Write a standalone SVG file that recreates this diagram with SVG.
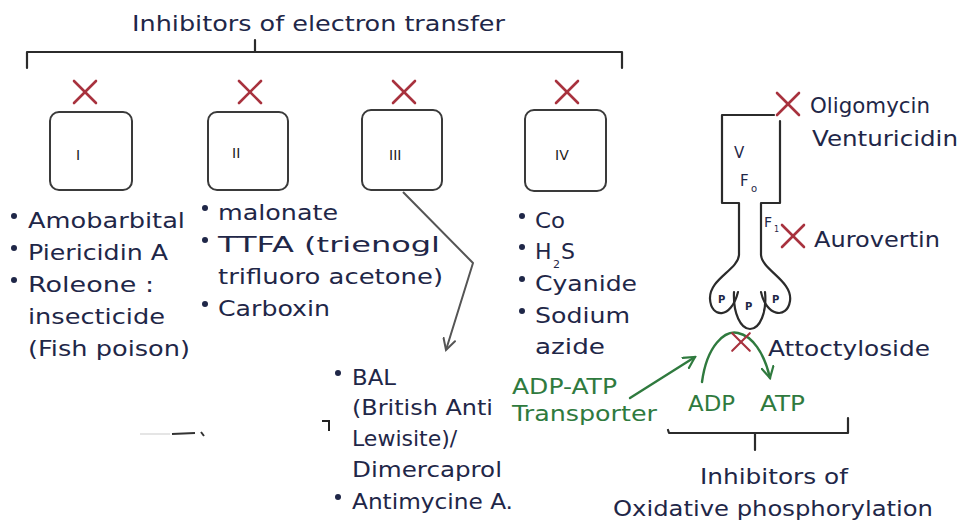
<svg xmlns="http://www.w3.org/2000/svg" width="965" height="528" viewBox="0 0 965 528">
  <style>
    text { font-family: "DejaVu Sans", "Liberation Sans", sans-serif; fill: #1f2748; }
    .t { font-size: 22px; }
    .g { fill: #2f7a3e; }
    .lbl { font-size: 14px; fill: #222; }
    .line { fill: none; stroke: #2b2b2b; stroke-width: 2.2; stroke-linecap: round; stroke-linejoin: round; }
    .box { fill: #fff; stroke: #3a3a3a; stroke-width: 2; }
    .x { stroke: #a8323e; stroke-width: 2.6; stroke-linecap: round; }
    .gr { fill: none; stroke: #2f7a3e; stroke-width: 2.4; stroke-linecap: round; }
    .dot { fill: #1f2748; }
  </style>
  <defs>
    <marker id="openGray" viewBox="0 0 14 14" refX="12" refY="7" markerWidth="14" markerHeight="14" markerUnits="userSpaceOnUse" orient="auto">
      <path d="M1,1 L12,7 L1,13" fill="none" stroke="#555" stroke-width="2" stroke-linecap="round"/>
    </marker>
    <marker id="openGreen" viewBox="0 0 14 14" refX="12" refY="7" markerWidth="14" markerHeight="14" markerUnits="userSpaceOnUse" orient="auto">
      <path d="M1,1 L12,7 L1,13" fill="none" stroke="#2f7a3e" stroke-width="2.2" stroke-linecap="round"/>
    </marker>
    <g id="cross"><line class="x" x1="-11" y1="-11" x2="11" y2="11"/><line class="x" x1="11" y1="-11" x2="-11" y2="11"/></g>
  </defs>

  <!-- electron transfer heading and bracket -->
  <g id="heading">
    <text class="t" x="132" y="31" textLength="373" lengthAdjust="spacingAndGlyphs">Inhibitors of electron transfer</text>
    <path class="line" d="M27,68 L27,52 L622,52 L622,68 M255,40 L255,52"/>
  </g>

  <!-- complexes I-IV -->
  <g id="complex-I">
    <use href="#cross" x="85" y="92"/>
    <rect class="box" x="50" y="112" width="82" height="78" rx="9"/>
    <text class="lbl" x="76" y="160">I</text>
  </g>
  <g id="complex-II">
    <use href="#cross" x="250" y="92"/>
    <rect class="box" x="208" y="112" width="80" height="78" rx="9"/>
    <text class="lbl" x="232" y="158">II</text>
  </g>
  <g id="complex-III">
    <use href="#cross" x="404" y="92"/>
    <rect class="box" x="362" y="110" width="80" height="80" rx="9"/>
    <text class="lbl" x="389" y="160">III</text>
  </g>
  <g id="complex-IV">
    <use href="#cross" x="567" y="92"/>
    <rect class="box" x="525" y="110" width="81" height="81" rx="9"/>
    <text class="lbl" x="555" y="160">IV</text>
  </g>

  <!-- inhibitor lists -->
  <g id="list-I">
    <circle class="dot" cx="14" cy="216" r="3"/>
    <text class="t" x="28" y="228" textLength="157" lengthAdjust="spacingAndGlyphs">Amobarbital</text>
    <circle class="dot" cx="14" cy="248" r="3"/>
    <text class="t" x="28" y="260" textLength="140" lengthAdjust="spacingAndGlyphs">Piericidin A</text>
    <circle class="dot" cx="14" cy="280" r="3"/>
    <text class="t" x="28" y="292" textLength="126" lengthAdjust="spacingAndGlyphs">Roleone :</text>
    <text class="t" x="28" y="324" textLength="137" lengthAdjust="spacingAndGlyphs">insecticide</text>
    <text class="t" x="28" y="356" textLength="162" lengthAdjust="spacingAndGlyphs">(Fish poison)</text>
  </g>
  <g id="list-II">
    <circle class="dot" cx="205" cy="208" r="3"/>
    <text class="t" x="218" y="220" textLength="120" lengthAdjust="spacingAndGlyphs">malonate</text>
    <circle class="dot" cx="205" cy="240" r="3"/>
    <text class="t" x="218" y="252" textLength="222" lengthAdjust="spacingAndGlyphs">TTFA (trienogl</text>
    <text class="t" x="218" y="284" textLength="225" lengthAdjust="spacingAndGlyphs">trifluoro acetone)</text>
    <circle class="dot" cx="205" cy="304" r="3"/>
    <text class="t" x="218" y="316" textLength="112" lengthAdjust="spacingAndGlyphs">Carboxin</text>
  </g>
  <g id="list-IV">
    <circle class="dot" cx="522" cy="216" r="3"/>
    <text class="t" x="535" y="228" textLength="30" lengthAdjust="spacingAndGlyphs">Co</text>
    <circle class="dot" cx="522" cy="247" r="3"/>
    <text class="t" x="535" y="259">H</text>
    <text x="553" y="268" style="font-size:11px">2</text>
    <text class="t" x="561" y="259">S</text>
    <circle class="dot" cx="522" cy="279" r="3"/>
    <text class="t" x="535" y="291" textLength="102" lengthAdjust="spacingAndGlyphs">Cyanide</text>
    <circle class="dot" cx="522" cy="311" r="3"/>
    <text class="t" x="535" y="323" textLength="95" lengthAdjust="spacingAndGlyphs">Sodium</text>
    <text class="t" x="535" y="354" textLength="70" lengthAdjust="spacingAndGlyphs">azide</text>
  </g>
  <g id="list-III">
    <circle class="dot" cx="338" cy="373" r="3"/>
    <text class="t" x="352" y="385" textLength="44" lengthAdjust="spacingAndGlyphs">BAL</text>
    <text class="t" x="352" y="415" textLength="141" lengthAdjust="spacingAndGlyphs">(British Anti</text>
    <text class="t" x="352" y="446">Lewisite)/</text>
    <text class="t" x="352" y="477" textLength="150" lengthAdjust="spacingAndGlyphs">Dimercaprol</text>
    <circle class="dot" cx="338" cy="497" r="3"/>
    <text class="t" x="352" y="509" textLength="161" lengthAdjust="spacingAndGlyphs">Antimycine A.</text>
  </g>

  <!-- complex V: ATP synthase -->
  <g id="complex-V">
    <path class="line" d="M774,115 L722,115 L722,203 L739,203 L739,255 M761,255 L761,203 L780,203 L780,121"/>
    <path class="line" d="M739,255 C738,270 709,279 710,299 C711,318 731,320 738,292"/>
    <path class="line" d="M734,292 C733,314 741,329 750,329 C760,329 767,312 765,292"/>
    <path class="line" d="M761,255 C762,270 793,281 790,301 C787,320 766,316 761,292"/>
    <text x="734" y="158" style="font-size:15px">V</text>
    <text x="740" y="186" style="font-size:15px">F</text>
    <text x="751" y="192" style="font-size:10px">o</text>
    <text x="764" y="227" style="font-size:14px">F</text>
    <text x="774" y="232" style="font-size:8px">1</text>
    <text x="718" y="303" style="font-size:10px;font-weight:bold">P</text>
    <text x="745" y="310" style="font-size:10px;font-weight:bold">P</text>
    <text x="772" y="303" style="font-size:10px;font-weight:bold">P</text>
  </g>
  <g id="oligomycin">
    <use href="#cross" x="788" y="104"/>
    <text class="t" x="810" y="113" textLength="120" lengthAdjust="spacingAndGlyphs">Oligomycin</text>
    <text class="t" x="812" y="146" textLength="146" lengthAdjust="spacingAndGlyphs">Venturicidin</text>
  </g>
  <g id="aurovertin">
    <use href="#cross" x="793" y="236"/>
    <text class="t" x="814" y="247" textLength="126" lengthAdjust="spacingAndGlyphs">Aurovertin</text>
  </g>

  <!-- ADP-ATP transporter -->
  <g id="transporter">
    <text class="t g" x="512" y="394" textLength="105" lengthAdjust="spacingAndGlyphs">ADP-ATP</text>
    <text class="t g" x="512" y="421" textLength="145" lengthAdjust="spacingAndGlyphs">Transporter</text>
    <text class="t g" x="688" y="411" textLength="47" lengthAdjust="spacingAndGlyphs">ADP</text>
    <text class="t g" x="760" y="411" textLength="45" lengthAdjust="spacingAndGlyphs">ATP</text>
  </g>
  <g id="attoctyloside">
    <text class="t" x="768" y="356" textLength="162" lengthAdjust="spacingAndGlyphs">Attoctyloside</text>
  </g>

  <!-- oxidative phosphorylation bracket and caption -->
  <g id="oxphos">
    <path class="line" d="M668,430 L669,433 L848,433 L848,418 M755,433 L755,450"/>
    <text class="t" x="700" y="484" textLength="148" lengthAdjust="spacingAndGlyphs">Inhibitors of</text>
    <text class="t" x="613" y="516" textLength="320" lengthAdjust="spacingAndGlyphs">Oxidative phosphorylation</text>
  </g>

  <!-- connectors -->
  <g id="connectors">
    <path d="M403,192 L473,263 L446,350" fill="none" stroke="#555" stroke-width="2" stroke-linejoin="round" marker-end="url(#openGray)"/>
    <path class="gr" d="M630,398 L695,357" marker-end="url(#openGreen)"/>
    <path class="gr" d="M702,382 C707,345 725,330 738,333 C752,336 764,352 770,378" marker-end="url(#openGreen)"/>
    <use href="#cross" transform="translate(741,342) scale(0.8)"/>
  </g>

  <!-- stray pen marks -->
  <g id="marks">
    <path d="M140,434 L170,434" stroke="#ddd" stroke-width="1.5"/>
    <path d="M172,434 L195,433 M201,432 L204,436" stroke="#333" stroke-width="2" fill="none"/>
    <path d="M322,421 L329,421 L329,431" stroke="#222" stroke-width="2" fill="none"/>
  </g>
</svg>
